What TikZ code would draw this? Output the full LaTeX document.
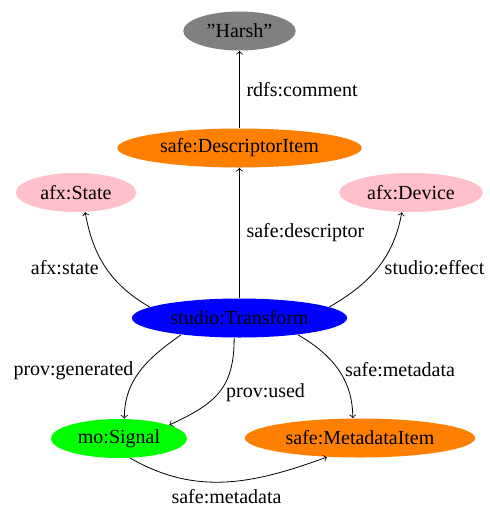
\documentclass[tikz,border=0pt]{standalone}
\usepackage{fontspec}
\setmainfont{Liberation Serif}
\usetikzlibrary{shapes.geometric}
\definecolor{statepink}{RGB}{255,192,203}
\begin{document}
\begin{tikzpicture}[x=0.5pt, y=0.5pt,
    entity/.style={ellipse, minimum height=19.5pt, inner xsep=3.5pt, inner ysep=0pt}]
    \useasboundingbox (0,0) rectangle (489,-505);

    % Define the resources
    \node[entity, fill=gray] (harsh) at (239.5,-31) {''Harsh''};
    \node[entity, fill=orange] (descitem) at (239.5,-148) {safe:DescriptorItem};
    \node[entity, fill=statepink] (state) at (76,-192.5) {afx:State};
    \node[entity, fill=statepink] (device) at (411,-192.5) {afx:Device};
    \node[entity, fill=blue] (transform) at (239.5,-318) {studio:Transform};
    \node[entity, fill=green] (signal) at (119,-438.5) {mo:Signal};
    \node[entity, fill=orange] (metaitem) at (360,-438) {safe:MetadataItem};

    % Define the straight properties
    \draw[->] (descitem) -- node[right] {rdfs:comment} (harsh);
    \draw[->] (transform) -- node[right] {safe:descriptor} (descitem);

    % Define the curved properties
    \draw[->] (transform.173) to[out=150, in=-80] node[left] {afx:state} (state.-65);
    \draw[->] (transform.7) to[out=30, in=-100] node[right] {studio:effect} (device.-115);
    \draw[->] (transform.196) to[out=215, in=90] node[left] {prov:generated} (signal.75);
    \draw[->] (transform.-105) to[out=-90, in=25, looseness=1.2] node[right] {prov:used} (signal.15);
    \draw[->] (transform.-16) to[out=-30, in=90] node[right] {safe:metadata} (metaitem.110);
    \draw[->] (signal.-60) to[out=-30, in=-160] node[below] {safe:metadata} (metaitem.-150);

\end{tikzpicture}
\end{document}
